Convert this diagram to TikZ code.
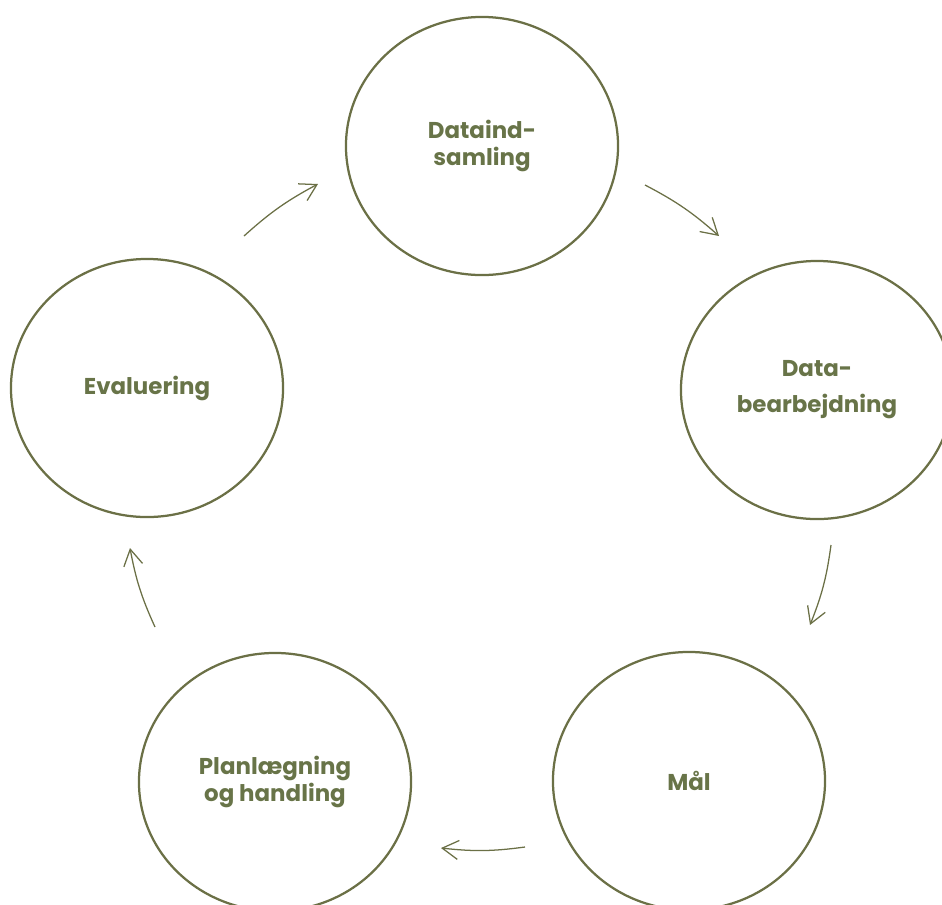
\documentclass[tikz,border=0pt]{standalone}
\usepackage{fontspec}
\setmainfont{Poppins}
\usetikzlibrary{shapes.geometric,arrows.meta}
\definecolor{moss}{RGB}{107,112,70}
\definecolor{mosstext}{RGB}{104,116,72}

\begin{document}
\begin{tikzpicture}[x=0.025cm, y=-0.025cm,
    stage/.style ={ellipse, draw=moss, line width=1.6pt, minimum width=6.8cm,
                   minimum height=6.45cm, inner sep=0pt, align=center, text=mosstext,
                   font=\bfseries\fontsize{16.3}{18.6}\selectfont},
    flow/.style ={draw=moss, line width=0.9pt, -{Straight Barb[length=11.5pt, width=13.5pt]}}]
   \useasboundingbox (0,0) rectangle (942,904);

   \node[stage] (collect) at (482,146) {Dataind-\\samling};
   \node[stage] (process) at (817,390) {Data-\\[7pt]bearbejdning};
   \node[stage] (goal)    at (689,781) {Mål};
   \node[stage] (plan)    at (275,782) {Planlægning\\og handling};
   \node[stage] (review)  at (147,388) {Evaluering};

   \coordinate (c1s) at (645,185);  \coordinate (c1e) at (719,236);
   \coordinate (c2s) at (831,545);  \coordinate (c2e) at (810,625);
   \coordinate (c3s) at (525,847);  \coordinate (c3e) at (441,848);
   \coordinate (c4s) at (155,627);  \coordinate (c4e) at (130,548);
   \coordinate (c5s) at (244,236);  \coordinate (c5e) at (318,184);

   \draw[flow] (c1s) to[bend left=7] (c1e);
   \draw[flow] (c2s) to[bend left=7] (c2e);
   \draw[flow] (c3s) to[bend left=7] (c3e);
   \draw[flow] (c4s) to[bend left=7] (c4e);
   \draw[flow] (c5s) to[bend left=7] (c5e);
 \end{tikzpicture}
\end{document}
